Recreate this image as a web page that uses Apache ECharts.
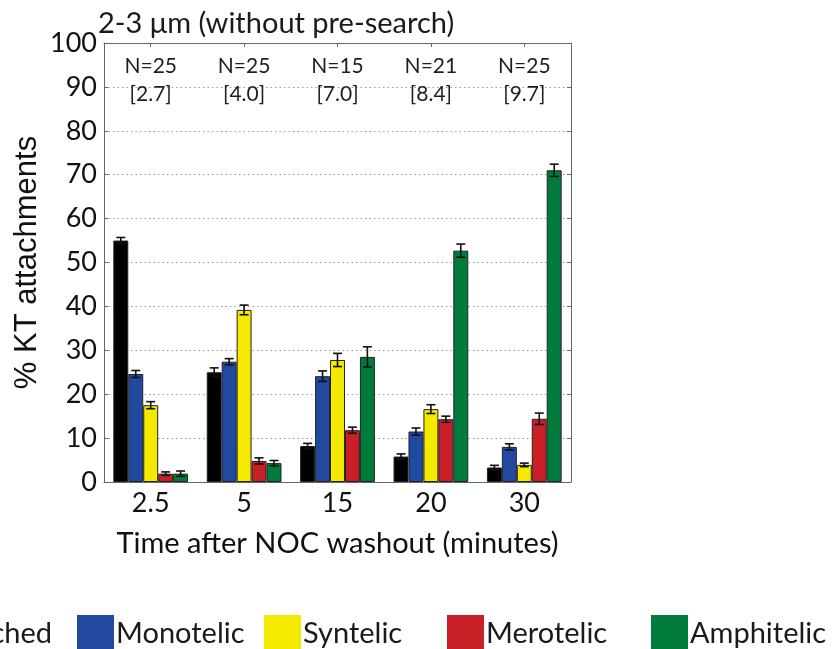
<!DOCTYPE html>
<html><head><meta charset="utf-8">
<script src="https://cdn.jsdelivr.net/npm/echarts@6/dist/echarts.min.js"></script>
<style>html,body{margin:0;padding:0;background:#fff}#c{width:835px;height:649px}</style>
</head><body><div id="c"></div>
<script>
const categories = ['2.5', '5', '15', '20', '30'];
const seriesNames = ['Unattached', 'Monotelic', 'Syntelic', 'Merotelic', 'Amphitelic'];
const unattached = [55.0, 25.0, 8.2, 5.8, 3.3];
const monotelic  = [24.6, 27.4, 24.1, 11.5, 8.0];
const syntelic   = [17.5, 39.2, 27.8, 16.6, 3.9];
const merotelic  = [1.9, 4.8, 11.8, 14.3, 14.4];
const amphitelic = [1.9, 4.3, 28.5, 52.7, 71.0];
const errUnattached = [0.7, 1.0, 0.6, 0.6, 0.5];
const errMonotelic  = [0.8, 0.7, 1.2, 0.8, 0.7];
const errSyntelic   = [0.8, 1.1, 1.5, 1.0, 0.4];
const errMerotelic  = [0.4, 0.7, 0.7, 0.7, 1.3];
const errAmphitelic = [0.6, 0.6, 2.3, 1.5, 1.4];
const nLabels = ['N=25', 'N=25', 'N=15', 'N=21', 'N=25'];
const meanLabels = ['[2.7]', '[4.0]', '[7.0]', '[8.4]', '[9.7]'];
const yTicks = [0, 10, 20, 30, 40, 50, 60, 70, 80, 90, 100];

const colors = ['#000000', '#2249a0', '#f4ea00', '#c91f26', '#007b3c'];
const values = [unattached, monotelic, syntelic, merotelic, amphitelic];
const errs = [errUnattached, errMonotelic, errSyntelic, errMerotelic, errAmphitelic];
const CAT_GAP = 0.2;
const FONT = 'Lato';

const chart = echarts.init(document.getElementById('c'), null, {renderer: 'canvas'});

const series = [];
seriesNames.forEach((name, k) => {
  series.push({
    name: name, type: 'bar', data: values[k],
    barGap: '0%', barCategoryGap: (CAT_GAP * 100) + '%',
    itemStyle: {color: colors[k], borderColor: '#222', borderWidth: 1},
    z: 2
  });
});
seriesNames.forEach((name, k) => {
  series.push({
    type: 'custom', name: name + ' err', silent: true, z: 5,
    data: values[k].map((v, i) => [i, v, errs[k][i]]),
    renderItem: function (params, api) {
      const i = api.value(0), v = api.value(1), e = api.value(2);
      const band = api.size([1, 0])[0];
      const gw = band * (1 - CAT_GAP);
      const bw = gw / seriesNames.length;
      const c = api.coord([i, v]);
      const x = c[0] - gw / 2 + bw * (k + 0.5);
      const yt = api.coord([i, v + e])[1];
      const yb = api.coord([i, v - e])[1];
      const cap = 4.5;
      const st = {stroke: '#111', lineWidth: 1.6};
      return {type: 'group', children: [
        {type: 'line', shape: {x1: x, y1: yt, x2: x, y2: yb}, style: st},
        {type: 'line', shape: {x1: x - cap, y1: yt, x2: x + cap, y2: yt}, style: st},
        {type: 'line', shape: {x1: x - cap, y1: yb, x2: x + cap, y2: yb}, style: st}
      ]};
    }
  });
});
series.push({
  type: 'custom', name: 'labels', silent: true, z: 6,
  data: categories.map((c, i) => [i, 94.6, 88.3]),
  renderItem: function (params, api) {
    const i = api.value(0);
    const p1 = api.coord([i, api.value(1)]);
    const p2 = api.coord([i, api.value(2)]);
    const ts = {fontSize: 21, fontFamily: FONT, fill: '#1e1e1e', align: 'center', verticalAlign: 'middle'};
    return {type: 'group', children: [
      {type: 'text', x: p1[0], y: p1[1], style: Object.assign({text: nLabels[i]}, ts)},
      {type: 'text', x: p2[0], y: p2[1], style: Object.assign({text: meanLabels[i]}, ts)}
    ]};
  }
});

// legend positions
const legendFont = 29;
const cvs = document.createElement('canvas').getContext('2d');
cvs.font = legendFont + 'px ' + FONT;
const unW = cvs.measureText(seriesNames[0]).width;
const legendLefts = [50 - unW - 5 - 37, 72, 259, 442, 646];
const legends = seriesNames.map((name, k) => ({
  data: [name], left: legendLefts[k], top: 610,
  itemWidth: 37, itemHeight: 37, icon: 'rect',
  itemStyle: {borderWidth: 0},
  textStyle: {fontSize: legendFont, fontFamily: FONT, color: '#1a1a1a', padding: [0, 0, 0, -3]},
  selectedMode: false
}));

chart.setOption({
  animation: false,
  title: {text: '2-3 \u03bcm (without pre-search)', left: 93, top: 4,
    textStyle: {fontSize: 29, fontWeight: 'normal', fontFamily: FONT, color: '#1a1a1a'}},
  legend: legends,
  grid: {left: 104, top: 43, width: 467, height: 439},
  xAxis: [{
    type: 'category', data: categories, position: 'bottom',
    axisLine: {lineStyle: {color: '#666', width: 1}},
    axisTick: {show: true, inside: true, alignWithLabel: true, length: 4, lineStyle: {color: '#666'}},
    axisLabel: {fontSize: 27, fontFamily: FONT, color: '#111', margin: 8},
    name: 'Time after NOC washout (minutes)', nameLocation: 'middle', nameGap: 47,
    nameTextStyle: {fontSize: 29, fontFamily: FONT, color: '#111'}
  }, {
    type: 'category', data: categories, position: 'top',
    axisLine: {show: true, onZero: false, lineStyle: {color: '#666', width: 1}},
    axisTick: {show: true, inside: true, alignWithLabel: true, length: 4, lineStyle: {color: '#666'}},
    axisLabel: {show: false}
  }],
  yAxis: [{
    type: 'value', min: 0, max: 100, interval: 10, position: 'left',
    axisLine: {show: true, onZero: false, lineStyle: {color: '#666', width: 1}},
    axisTick: {show: true, inside: true, length: 4, lineStyle: {color: '#666'}},
    axisLabel: {fontSize: 27, fontFamily: FONT, color: '#111', margin: 7,
      formatter: v => yTicks.indexOf(v) >= 0 ? String(v) : ''},
    splitLine: {show: true, showMinLine: false, showMaxLine: false,
      lineStyle: {color: '#999', type: [1.5, 3], width: 1}},
    name: '% KT attachments', nameLocation: 'middle', nameGap: 61, nameMoveOverlap: false,
    nameTextStyle: {fontSize: 31, fontFamily: 'Liberation Sans', color: '#111'}
  }, {
    type: 'value', min: 0, max: 100, interval: 10, position: 'right',
    axisLine: {show: true, onZero: false, lineStyle: {color: '#666', width: 1}},
    axisTick: {show: true, inside: true, length: 4, lineStyle: {color: '#666'}},
    axisLabel: {show: false}, splitLine: {show: false}
  }],
  series: series
});
</script></body></html>
